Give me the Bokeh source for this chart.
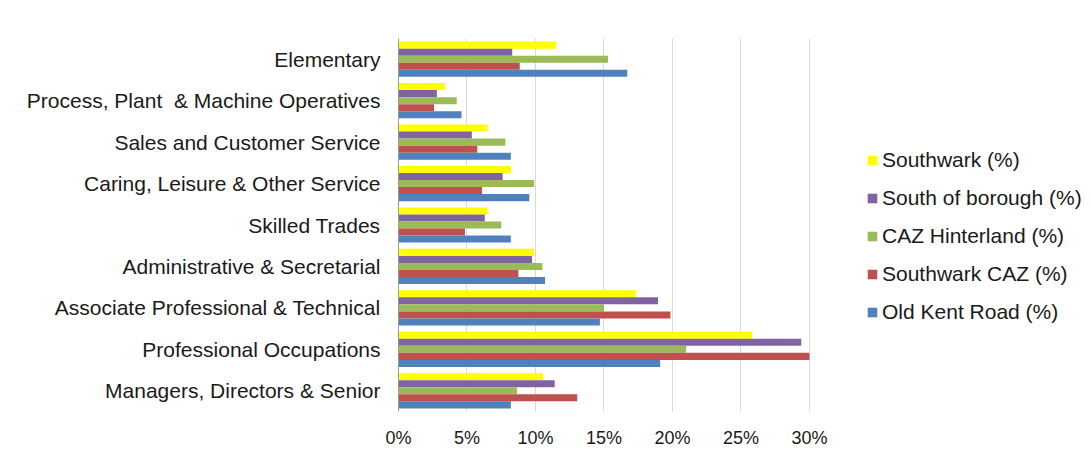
from bokeh.plotting import figure
from bokeh.models import (FactorRange, Range1d, FixedTicker, NumeralTickFormatter,
                          Legend, LegendItem, ColumnDataSource)
from bokeh.transform import dodge
from bokeh.embed import file_html
from bokeh.resources import INLINE

categories = ["Managers, Directors & Senior", "Professional Occupations",
              "Associate Professional & Technical", "Administrative & Secretarial",
              "Skilled Trades", "Caring, Leisure & Other Service",
              "Sales and Customer Service", "Process, Plant \u00a0& Machine Operatives",
              "Elementary"]

southwark = [10.55, 25.8, 17.35, 9.9, 6.5, 8.2, 6.5, 3.4, 11.5]
south_of_borough = [11.4, 29.4, 18.95, 9.75, 6.3, 7.6, 5.35, 2.8, 8.3]
caz_hinterland = [8.65, 21.0, 15.0, 10.5, 7.5, 9.9, 7.8, 4.25, 15.3]
southwark_caz = [13.05, 30.0, 19.85, 8.75, 4.85, 6.1, 5.75, 2.6, 8.85]
old_kent_road = [8.2, 19.1, 14.7, 10.7, 8.2, 9.55, 8.2, 4.6, 16.7]

x_ticks = [0, 0.05, 0.10, 0.15, 0.20, 0.25, 0.30]

series_names = ["Southwark (%)", "South of borough (%)", "CAZ Hinterland (%)",
                "Southwark CAZ (%)", "Old Kent Road (%)"]
series_values = [southwark, south_of_borough, caz_hinterland, southwark_caz, old_kent_road]
colors = ["#FFFF00", "#8064A2", "#9BBB59", "#C0504D", "#4F81BD"]
offsets = [0.34, 0.17, 0.0, -0.17, -0.34]

data = {"cat": categories}
for i, vals in enumerate(series_values):
    data[f"s{i}"] = [v / 100 for v in vals]
source = ColumnDataSource(data)

FONT = "Liberation Sans"

# frame spans to the right edge; 30% sits at ~411px from the axis
p = figure(width=1085, height=450, y_range=FactorRange(*categories),
           x_range=Range1d(0, 0.5015), output_backend="svg", toolbar_location=None,
           min_border_left=398, min_border_right=0, min_border_top=38,
           min_border_bottom=38)
p.outline_line_color = None
p.background_fill_color = "white"

items = []
for i in range(5):
    r = p.hbar(y=dodge("cat", offsets[i], range=p.y_range), right=f"s{i}", left=0,
               height=0.17, source=source, fill_color=colors[i], line_color=None)
    items.append(LegendItem(label=series_names[i], renderers=[r]))

p.xaxis.ticker = FixedTicker(ticks=x_ticks)
p.xaxis.formatter = NumeralTickFormatter(format="0%")
p.xaxis.axis_line_color = None
p.xaxis.major_tick_line_color = None
p.xaxis.minor_tick_line_color = None
p.xaxis.major_tick_out = 0
p.xaxis.major_label_text_font = FONT
p.xaxis.major_label_text_font_size = "18px"
p.xaxis.major_label_text_color = "#1a1a1a"
p.xaxis.major_label_standoff = 16

p.yaxis.axis_line_color = "#9a9a9a"
p.yaxis.major_tick_line_color = None
p.yaxis.minor_tick_line_color = None
p.yaxis.major_tick_out = 0
p.yaxis.major_label_text_font = FONT
p.yaxis.major_label_text_font_size = "21px"
p.yaxis.major_label_text_color = "#1a1a1a"
p.yaxis.major_label_standoff = 18

p.xgrid.grid_line_color = "#d9d9d9"
p.xgrid.grid_line_width = 1
p.ygrid.grid_line_color = None

legend = Legend(items=items, location=(468, 87), orientation="vertical")
legend.label_text_font = FONT
legend.label_text_font_size = "21px"
legend.label_text_color = "#1a1a1a"
legend.glyph_width = 12
legend.glyph_height = 12
legend.label_height = 22
legend.spacing = 14
legend.padding = 0
legend.margin = 0
legend.label_standoff = 4
legend.border_line_color = None
legend.background_fill_alpha = 0
p.add_layout(legend, "center")

open("out.html", "w").write(file_html(p, INLINE))
